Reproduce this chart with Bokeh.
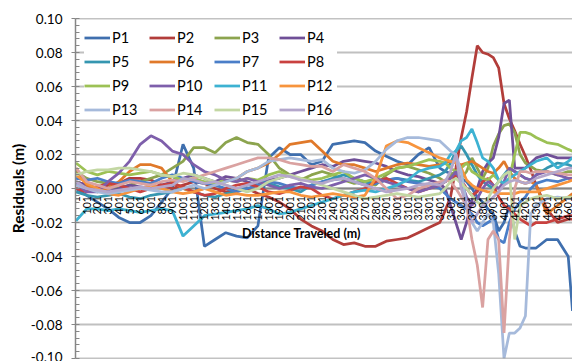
import numpy as np
from bokeh.plotting import figure
from bokeh.models import (Range1d, FixedTicker, PrintfTickFormatter, Span, Legend,
                          LegendItem, ColumnDataSource, Label)
from bokeh.core.properties import value
from bokeh.embed import file_html
from bokeh.resources import INLINE

# sample positions along the run (m); denser through the disturbed stretch
distance = [1, 101, 201, 301, 401, 501, 601, 701, 801, 901, 1001, 1101, 1201, 1301,
            1401, 1501, 1601, 1701, 1801, 1901, 2001, 2101, 2201, 2301, 2401, 2501,
            2601, 2701, 2801, 2901, 3001, 3101, 3201, 3301, 3401, 3451, 3501, 3551,
            3601, 3651, 3701, 3751, 3801, 3851, 3901, 3951, 4001, 4051, 4101, 4151,
            4201, 4251, 4301, 4401, 4501, 4601, 4641]

P1 = [0.000, -0.004, -0.008, -0.012, -0.017, -0.020, -0.020, -0.016, -0.008, 0.000, 0.026,
      0.012, -0.034, -0.030, -0.026, -0.028, -0.029, -0.022, 0.018, 0.024, 0.020, 0.020,
      0.014, 0.016, 0.026, 0.027, 0.028, 0.027, 0.022, 0.019, 0.016, 0.014, 0.020, 0.024,
      0.012, 0.010, 0.009, 0.008, 0.006, 0.004, 0.000, -0.005, -0.008, -0.012, -0.015,
      -0.025, -0.020, -0.010, -0.025, -0.034, -0.035, -0.035, -0.035, -0.030, -0.030,
      -0.040, -0.072]
P2 = [0.004, 0.002, 0.000, 0.002, 0.003, 0.006, 0.006, 0.005, 0.002, 0.000, 0.002, 0.004,
      0.003, 0.000, -0.002, -0.001, 0.000, -0.003, -0.005, -0.008, -0.012, -0.018, -0.022,
      -0.025, -0.030, -0.033, -0.032, -0.034, -0.034, -0.031, -0.030, -0.029, -0.026,
      -0.023, -0.020, -0.013, -0.005, 0.012, 0.030, 0.045, 0.065, 0.084, 0.080, 0.079,
      0.077, 0.071, 0.050, 0.041, 0.034, 0.026, 0.019, 0.011, 0.002, -0.012, -0.020,
      -0.018, -0.018]
P3 = [0.010, 0.006, 0.004, 0.003, 0.000, 0.002, 0.004, 0.006, 0.008, 0.012, 0.016, 0.024,
      0.024, 0.021, 0.027, 0.030, 0.027, 0.026, 0.020, 0.012, 0.008, 0.005, 0.008, 0.010,
      0.008, 0.005, 0.003, 0.004, 0.002, 0.008, 0.012, 0.013, 0.011, 0.009, 0.006, 0.004,
      0.008, 0.010, 0.006, 0.010, 0.018, 0.012, 0.006, 0.012, 0.025, 0.032, 0.037, 0.038,
      0.033, 0.020, 0.015, 0.013, 0.011, 0.010, 0.008, 0.010, 0.010]
P4 = [0.004, 0.002, 0.000, -0.002, 0.000, 0.002, 0.001, 0.000, 0.002, 0.004, 0.006, 0.008,
      0.006, 0.004, 0.007, 0.006, 0.004, 0.002, 0.005, 0.006, 0.008, 0.010, 0.012, 0.014,
      0.013, 0.016, 0.017, 0.016, 0.015, 0.013, 0.010, 0.008, 0.007, 0.005, 0.003, 0.000,
      -0.010, -0.020, -0.030, -0.020, -0.007, 0.000, 0.010, 0.015, 0.018, 0.030, 0.050,
      0.052, 0.012, 0.012, 0.012, 0.015, 0.018, 0.020, 0.018, 0.018, 0.018]
P5 = [-0.002, -0.004, -0.005, -0.004, -0.003, -0.005, -0.006, -0.004, -0.003, -0.002, 0.000,
      -0.002, -0.004, -0.005, -0.003, -0.002, 0.002, 0.004, 0.003, 0.001, 0.000, -0.002,
      0.002, 0.004, 0.006, 0.008, 0.006, 0.004, 0.003, 0.005, 0.006, 0.005, 0.004, 0.006,
      0.008, 0.010, 0.015, 0.022, 0.025, 0.020, 0.014, 0.008, 0.004, 0.002, 0.000, 0.004,
      0.008, 0.012, 0.010, 0.008, 0.006, 0.005, 0.008, 0.012, 0.015, 0.014, 0.013]
P6 = [0.012, 0.002, -0.002, 0.000, 0.004, 0.010, 0.014, 0.014, 0.012, 0.004, 0.000, -0.002,
      0.000, 0.002, 0.004, 0.006, 0.010, 0.012, 0.015, 0.020, 0.026, 0.027, 0.028, 0.022,
      0.016, 0.014, 0.014, 0.012, 0.010, 0.012, 0.014, 0.015, 0.014, 0.013, 0.014, 0.015,
      0.016, 0.015, 0.014, 0.015, 0.016, 0.014, 0.012, 0.010, 0.009, 0.012, 0.016, 0.010,
      0.006, 0.004, 0.003, 0.004, 0.002, -0.015, -0.010, -0.005, -0.003]
P7 = [0.006, 0.005, 0.006, 0.004, 0.003, 0.005, 0.004, 0.003, 0.006, 0.008, 0.006, 0.004,
      0.003, 0.002, 0.000, -0.002, 0.000, 0.002, 0.004, 0.003, 0.001, 0.000, 0.002, 0.004,
      0.005, 0.006, 0.004, 0.002, 0.003, 0.005, 0.006, 0.004, 0.003, 0.002, 0.000, -0.003,
      -0.006, -0.008, -0.010, -0.012, -0.015, -0.020, -0.022, -0.020, -0.018, -0.030,
      -0.032, -0.020, -0.012, -0.008, -0.005, 0.000, 0.003, 0.005, 0.004, 0.006, 0.006]
P8 = [0.000, -0.002, 0.001, 0.003, 0.002, 0.000, -0.002, 0.000, 0.002, 0.003, 0.001, -0.002,
      -0.004, -0.003, 0.000, 0.002, 0.003, 0.001, -0.002, -0.003, -0.001, 0.001, 0.000,
      -0.004, -0.006, -0.004, -0.002, 0.000, 0.004, 0.006, 0.003, 0.000, -0.002, 0.000,
      0.002, 0.004, 0.006, 0.008, 0.005, 0.000, -0.004, -0.002, 0.004, 0.006, 0.002, -0.005,
      -0.010, -0.012, -0.015, -0.018, -0.020, -0.022, -0.020, -0.020, -0.018, -0.016,
      -0.016]
P9 = [0.015, 0.010, 0.008, 0.010, 0.009, 0.008, 0.009, 0.010, 0.008, 0.007, 0.005, 0.006,
      0.004, 0.003, 0.005, 0.004, 0.006, 0.005, 0.008, 0.010, 0.007, 0.006, 0.005, 0.006,
      0.008, 0.010, 0.006, 0.004, 0.006, 0.009, 0.012, 0.013, 0.015, 0.017, 0.016, 0.015,
      0.012, 0.010, 0.012, 0.015, 0.010, 0.008, 0.006, 0.005, 0.008, 0.005, 0.002, 0.006,
      0.020, 0.033, 0.033, 0.032, 0.030, 0.027, 0.026, 0.023, 0.022]
P10 = [0.003, -0.002, -0.002, 0.004, 0.009, 0.016, 0.026, 0.031, 0.028, 0.022, 0.020, 0.014,
       0.010, 0.008, 0.005, 0.004, 0.006, 0.004, 0.002, 0.000, 0.002, 0.003, 0.001, 0.000,
       0.002, 0.004, 0.006, 0.008, 0.006, 0.004, 0.002, 0.000, -0.002, 0.000, 0.002, 0.004,
       0.006, 0.010, 0.004, -0.005, -0.010, -0.006, 0.000, 0.004, 0.002, 0.000, 0.004,
       0.012, 0.010, 0.008, 0.006, 0.005, 0.008, 0.010, 0.008, 0.006, 0.006]
P11 = [-0.019, -0.012, -0.012, -0.013, -0.012, -0.013, -0.014, -0.013, -0.012, -0.013,
       -0.028, -0.022, -0.016, -0.015, -0.014, -0.013, -0.012, -0.010, -0.012, -0.015,
       -0.014, -0.012, -0.010, -0.008, -0.006, -0.004, -0.002, -0.001, -0.002, 0.000, 0.002,
       0.005, 0.010, 0.012, 0.013, 0.015, 0.020, 0.022, 0.028, 0.030, 0.035, 0.027, 0.018,
       0.016, 0.012, 0.005, 0.003, 0.006, 0.008, 0.010, 0.012, 0.014, 0.016, 0.018, 0.012,
       0.016, 0.018]
P12 = [0.008, 0.003, 0.000, -0.003, -0.004, -0.002, 0.000, 0.002, 0.000, -0.002, -0.003,
       -0.002, 0.000, -0.002, -0.004, -0.003, -0.004, -0.004, -0.003, -0.002, -0.002, -0.004,
       -0.005, -0.004, -0.003, -0.004, -0.005, -0.004, 0.006, 0.025, 0.028, 0.027, 0.024,
       0.021, 0.018, 0.017, 0.016, 0.015, 0.012, 0.005, 0.002, 0.000, -0.001, -0.002,
       -0.002, -0.003, -0.003, -0.003, -0.003, -0.002, -0.002, -0.002, -0.002, 0.000, 0.002,
       0.004, 0.005]
P13 = [0.002, 0.000, -0.002, -0.003, -0.002, -0.001, 0.000, -0.001, -0.002, -0.002, 0.000,
       0.002, 0.000, 0.002, 0.004, 0.006, 0.010, 0.012, 0.016, 0.017, 0.018, 0.017, 0.016,
       0.017, 0.012, 0.010, 0.009, 0.011, 0.016, 0.023, 0.028, 0.030, 0.030, 0.029, 0.028,
       0.025, 0.022, 0.020, 0.010, -0.010, -0.020, -0.025, -0.020, -0.015, -0.020, -0.050,
       -0.100, -0.085, -0.085, -0.082, -0.075, -0.015, -0.010, -0.006, -0.005, -0.006,
       -0.006]
P14 = [0.012, 0.004, 0.002, 0.000, 0.002, 0.004, 0.003, 0.002, 0.004, 0.005, 0.004, 0.006,
       0.008, 0.010, 0.012, 0.014, 0.016, 0.018, 0.018, 0.017, 0.015, 0.014, 0.013, 0.013,
       0.010, 0.014, 0.012, 0.010, 0.006, 0.000, -0.006, -0.004, 0.000, 0.002, 0.004, 0.005,
       0.004, 0.000, -0.005, -0.010, -0.030, -0.045, -0.070, -0.030, -0.025, -0.030, -0.085,
       -0.030, 0.000, 0.010, 0.010, 0.009, 0.010, 0.010, 0.009, 0.008, 0.008]
P15 = [0.008, 0.010, 0.011, 0.011, 0.012, 0.012, 0.011, 0.010, 0.008, 0.007, 0.009, 0.008,
       0.006, 0.004, 0.002, 0.000, -0.002, 0.000, 0.004, 0.006, 0.008, 0.006, 0.004, 0.002,
       0.000, -0.002, -0.004, -0.006, -0.005, -0.004, -0.003, -0.004, -0.005, -0.004, -0.003,
       0.000, 0.004, 0.006, 0.003, 0.000, -0.004, -0.008, -0.010, -0.006, 0.000, 0.004,
       0.008, 0.010, -0.030, -0.010, -0.008, -0.006, -0.005, -0.004, -0.006, -0.005, -0.005]
P16 = [0.004, 0.000, -0.001, -0.002, -0.001, 0.000, 0.001, 0.000, 0.001, 0.002, 0.006, 0.005,
       0.003, 0.004, 0.002, 0.000, 0.002, 0.004, 0.006, 0.008, 0.007, 0.005, 0.004, 0.003,
       0.005, 0.006, 0.004, 0.002, 0.000, -0.002, -0.001, 0.000, 0.002, 0.003, 0.002, 0.004,
       0.010, 0.020, 0.000, -0.010, -0.020, -0.015, -0.010, -0.008, -0.005, -0.002, 0.002,
       0.004, 0.005, 0.004, 0.003, 0.004, 0.006, 0.008, 0.010, 0.012, 0.012]

series_names = ["P1", "P2", "P3", "P4", "P5", "P6", "P7", "P8",
                "P9", "P10", "P11", "P12", "P13", "P14", "P15", "P16"]
series_values = [P1, P2, P3, P4, P5, P6, P7, P8, P9, P10, P11, P12, P13, P14, P15, P16]
series_colors = ["#3f6fae", "#b23d3a", "#8ca44e", "#6f4f97", "#3596b0", "#e0792a",
                 "#4a7ec8", "#c9413f", "#9cc155", "#7e5fab", "#3db2d2", "#f7943d",
                 "#a6badb", "#daa2a1", "#c3d7a3", "#b4a7cb"]

# category labels along the distance axis, one every 100 samples
category_ticks = list(range(1, 4602, 100))
category_labels = [str(t) for t in category_ticks]

y_ticks = [-0.10, -0.08, -0.06, -0.04, -0.02, 0.0, 0.02, 0.04, 0.06, 0.08, 0.10]

FONT = "Lato"
AXIS_GREY = "#868686"

p = figure(width=572, height=361, output_backend="svg", toolbar_location=None,
           x_range=Range1d(-3.7, 4641), y_range=Range1d(-0.10, 0.10),
           x_axis_location=None, min_border_left=75, min_border_right=0,
           min_border_top=18, min_border_bottom=3)
p.outline_line_color = None
p.background_fill_color = "white"
p.border_fill_color = "white"

p.xgrid.visible = False
p.ygrid.grid_line_color = "#c0c0c0"
p.ygrid.grid_line_width = 2

yax = p.yaxis[0]
yax.ticker = FixedTicker(ticks=y_ticks,
                         minor_ticks=[round(-0.10 + 0.004 * i, 3) for i in range(51)])
yax.formatter = PrintfTickFormatter(format="%.2f")
yax.axis_line_color = AXIS_GREY
yax.axis_line_width = 1.5
yax.major_tick_line_color = AXIS_GREY
yax.major_tick_out = 4
yax.major_tick_in = 0
yax.minor_tick_line_color = AXIS_GREY
yax.minor_tick_in = 4
yax.minor_tick_out = 0
yax.major_label_standoff = 9
yax.major_label_text_font = FONT
yax.major_label_text_font_size = "13.5px"
yax.major_label_text_color = "black"
yax.axis_label = "Residuals (m)"
yax.axis_label_text_font = FONT
yax.axis_label_text_font_style = "bold"
yax.axis_label_text_font_size = "15.5px"
yax.axis_label_text_color = "black"
yax.axis_label_standoff = 1

# frame edges at the top and bottom of the value range
p.add_layout(Span(location=0.10, dimension="width", line_color=AXIS_GREY, line_width=1.5))
p.add_layout(Span(location=-0.10, dimension="width", line_color=AXIS_GREY, line_width=1.5))
# category axis crossing at zero
p.add_layout(Span(location=0.0, dimension="width", line_color=AXIS_GREY, line_width=2,
                  level="underlay"))

renderers = []
for name, vals, col in zip(series_names, series_values, series_colors):
    r = p.line(distance, vals, line_color=col, line_width=2.75)
    renderers.append((name, r))

# category tick labels hanging under the zero line
lab_src = ColumnDataSource(dict(x=category_ticks, y=[-0.0045] * len(category_ticks),
                                text=category_labels))
p.text(x="x", y="y", text="text", source=lab_src, angle=np.pi / 2,
       text_align="right", text_baseline="middle", text_font=value(FONT),
       text_font_size=value("10.5px"), text_color="black")

p.add_layout(Label(x=2108, y=-0.0265, text="Distance Traveled (m)", text_font=FONT,
                   text_font_style="bold", text_font_size="12.5px", text_color="black",
                   text_align="center", text_baseline="middle"))

legend = Legend(items=[LegendItem(label=n, renderers=[r]) for n, r in renderers],
                location=(9, 240), orientation="horizontal", ncols=4)
legend.background_fill_color = "white"
legend.background_fill_alpha = 1.0
legend.border_line_color = None
legend.padding = 3
legend.spacing = 7
legend.margin = 0
legend.glyph_width = 26
legend.glyph_height = 17
legend.label_height = 17
legend.label_width = 30
legend.label_standoff = 2
legend.label_text_font = FONT
legend.label_text_font_size = "14.5px"
legend.label_text_color = "black"
p.add_layout(legend)

open("out.html", "w").write(file_html(p, INLINE))
